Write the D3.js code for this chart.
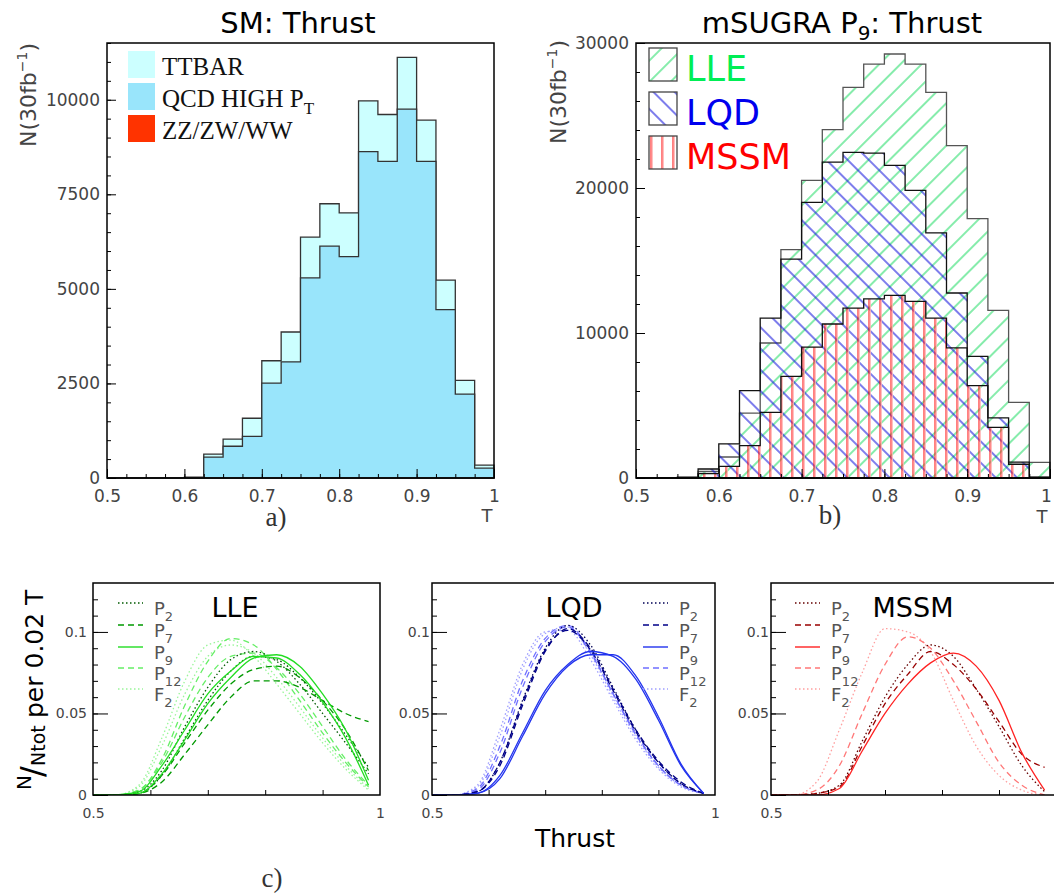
<!DOCTYPE html>
<html>
<head>
<meta charset="utf-8">
<script src="https://cdn.jsdelivr.net/npm/d3@7"></script>
<style>
body { margin: 0; background: #fff; }
text { font-family: "DejaVu Sans", sans-serif; }
text.serif { font-family: "Liberation Serif", serif; }
</style>
</head>
<body>
<script>
// histogram bins (lower edges, width 0.025)
var thrustBins = [0.500,0.525,0.550,0.575,0.600,0.625,0.650,0.675,0.700,0.725,
                  0.750,0.775,0.800,0.825,0.850,0.875,0.900,0.925,0.950,0.975];

// a) SM background, stacked
var smLegend  = ["TTBAR", "QCD HIGH P", "ZZ/ZW/WW"];
var smQcd     = [0,0,0,0,0,550,840,1100,2510,3070,5290,6130,5850,8630,8370,9750,8370,4450,2220,260];
var smTtbar   = [0,0,0,0,20,80,190,480,590,790,1080,1120,1160,1340,1240,1370,1090,780,360,80];
var smDiboson = [0,0,0,0,0,0,0,0,0,0,0,0,0,0,0,0,0,0,0,0];

// b) mSUGRA P9, overlaid
var p9Lle  = [0,0,60,450,1450,4480,9310,15750,20530,24020,26940,28550,29240,28550,26600,22920,17890,11560,5220,1080];
var p9Lqd  = [0,0,40,620,2350,6020,11030,15100,19010,21790,22460,22410,21560,19840,16900,12760,8390,4140,1100,60];
var p9Mssm = [0,0,20,300,800,2230,4530,7010,9030,10620,11720,12350,12600,12180,11030,8970,6370,3490,950,50];

// c) normalised shapes
var thrustGrid = [0.50,0.54,0.58,0.62,0.66,0.70,0.74,0.78,0.82,0.86,0.90,0.94,0.98];

var lleP2a  = [0,0,0.002,0.015,0.042,0.066,0.083,0.088,0.082,0.068,0.050,0.032,0.013];
var lleP2b  = [0,0,0.001,0.012,0.035,0.058,0.076,0.085,0.083,0.072,0.056,0.037,0.017];
var lleP7a  = [0,0,0.001,0.008,0.025,0.043,0.060,0.070,0.070,0.066,0.058,0.050,0.045];
var lleP7b  = [0,0,0.001,0.012,0.032,0.052,0.068,0.077,0.079,0.072,0.058,0.040,0.015];
var lleP9a  = [0,0,0.001,0.013,0.034,0.056,0.072,0.084,0.086,0.079,0.062,0.040,0.009];
var lleP9b  = [0,0,0.002,0.018,0.040,0.062,0.076,0.085,0.084,0.074,0.057,0.035,0.006];
var lleP12a = [0,0,0.003,0.022,0.055,0.082,0.096,0.092,0.077,0.058,0.038,0.020,0.005];
var lleP12b = [0,0,0.003,0.020,0.048,0.072,0.085,0.087,0.078,0.062,0.042,0.022,0.006];
var lleF2a  = [0,0,0.006,0.035,0.070,0.092,0.095,0.085,0.068,0.050,0.032,0.016,0.003];
var lleF2b  = [0,0,0.005,0.030,0.062,0.085,0.092,0.087,0.072,0.054,0.035,0.018,0.004];

var lqdP2   = [0,0,0.002,0.020,0.058,0.090,0.104,0.092,0.066,0.040,0.020,0.007,0.001];
var lqdP7a  = [0,0,0.002,0.018,0.055,0.088,0.102,0.090,0.065,0.040,0.021,0.008,0.001];
var lqdP7b  = [0,0,0.002,0.020,0.057,0.089,0.101,0.089,0.064,0.039,0.020,0.007,0.001];
var lqdP9a  = [0,0,0.001,0.010,0.036,0.062,0.079,0.086,0.086,0.073,0.048,0.019,0.001];
var lqdP9b  = [0,0,0.001,0.012,0.038,0.064,0.080,0.088,0.085,0.071,0.046,0.018,0.001];
var lqdP12a = [0,0,0.004,0.030,0.070,0.096,0.104,0.088,0.062,0.038,0.018,0.006,0.001];
var lqdP12b = [0,0,0.003,0.026,0.066,0.094,0.103,0.087,0.062,0.037,0.018,0.006,0.001];
var lqdF2a  = [0,0,0.005,0.036,0.077,0.099,0.103,0.086,0.060,0.036,0.017,0.006,0.001];
var lqdF2b  = [0,0,0.006,0.040,0.080,0.100,0.101,0.083,0.058,0.034,0.016,0.005,0.001];

var mssmP2  = [0,0,0.001,0.006,0.033,0.060,0.080,0.092,0.085,0.065,0.042,0.018,0.002];
var mssmP7  = [0,0,0.001,0.005,0.030,0.056,0.074,0.088,0.080,0.065,0.045,0.025,0.017];
var mssmP9  = [0,0,0,0.004,0.027,0.050,0.068,0.081,0.087,0.079,0.058,0.026,0.003];
var mssmP12 = [0,0,0.003,0.018,0.050,0.080,0.097,0.090,0.070,0.045,0.020,0.006,0];
var mssmF2  = [0,0,0.008,0.040,0.075,0.102,0.100,0.088,0.058,0.030,0.012,0.003,0];

var pointNames = ["P","P","P","P","F"];
var pointSubs  = ["2","7","9","12","2"];

var svgWidth = 1054, svgHeight = 895;
var svg = d3.select("body").append("svg")
  .attr("width", svgWidth)
  .attr("height", svgHeight);

var tickGray = "#444";

// hatch patterns for panel b
var defs = svg.append("defs");
defs.append("pattern").attr("id", "hatchLle")
  .attr("patternUnits", "userSpaceOnUse").attr("width", 15).attr("height", 15)
  .attr("patternTransform", "rotate(45)")
  .append("line").attr("x1", 7).attr("y1", -1).attr("x2", 7).attr("y2", 16)
  .attr("stroke", "#22dd66").attr("stroke-width", 1.1);
defs.append("pattern").attr("id", "hatchLqd")
  .attr("patternUnits", "userSpaceOnUse").attr("width", 15).attr("height", 15)
  .attr("patternTransform", "rotate(-45)")
  .append("line").attr("x1", 7).attr("y1", -1).attr("x2", 7).attr("y2", 16)
  .attr("stroke", "#1111dd").attr("stroke-width", 1.1);
var pm = defs.append("pattern").attr("id", "hatchMssm")
  .attr("patternUnits", "userSpaceOnUse").attr("width", 11).attr("height", 11);
pm.append("line").attr("x1", 2).attr("y1", 0).attr("x2", 2).attr("y2", 11)
  .attr("stroke", "#ff0000").attr("stroke-width", 1);
pm.append("line").attr("x1", 3.3).attr("y1", 0).attr("x2", 3.3).attr("y2", 11)
  .attr("stroke", "#ffb0b0").attr("stroke-width", 1);

function stepData(vals) {
  var d = thrustBins.map(function(t, i) { return {t: t, v: vals[i]}; });
  d.push({t: 1.0, v: vals[vals.length - 1]});
  return d;
}

function styleAxis(ax) {
  ax.select(".domain").remove();
  ax.selectAll(".tick line").attr("stroke", "#000");
  ax.selectAll("text").attr("fill", tickGray).attr("font-size", 17);
}

function histAxes(g, x, y, w, h, yMajor, yMinor, lastShift) {
  var xMinor = thrustBins.concat([1.0]);
  g.append("g").attr("transform", "translate(0," + h + ")")
    .call(d3.axisBottom(x).tickValues(xMinor).tickSize(-4).tickFormat(""))
    .call(styleAxis);
  g.append("g").attr("transform", "translate(0," + h + ")")
    .call(d3.axisBottom(x).tickValues([0.5,0.6,0.7,0.8,0.9,1.0]).tickSize(-9).tickPadding(12)
      .tickFormat(function(d) { return d === 1 ? "1" : d.toFixed(1); }))
    .call(styleAxis)
    .selectAll("text").filter(function(d) { return d === 1; }).attr("dx", lastShift);
  g.append("g")
    .call(d3.axisLeft(y).tickValues(yMinor).tickSize(-4).tickFormat(""))
    .call(styleAxis);
  g.append("g")
    .call(d3.axisLeft(y).tickValues(yMajor).tickSize(-9).tickPadding(7).tickFormat(d3.format("d")))
    .call(styleAxis);
  g.append("rect").attr("width", w).attr("height", h)
    .attr("fill", "none").attr("stroke", "#000").attr("stroke-width", 1.5);
}

function yLabel(x0, y0) {
  var t = svg.append("text")
    .attr("transform", "translate(" + x0 + "," + y0 + ") rotate(-90)")
    .attr("text-anchor", "end").attr("font-size", 22).attr("fill", tickGray);
  t.append("tspan").text("N(30fb");
  t.append("tspan").attr("font-size", 14).attr("dy", -9).text("\u22121");
  t.append("tspan").attr("dy", 9).text(")");
}

// ---------- a) SM: Thrust ----------
(function() {
  var box = {left: 107, right: 494, top: 43, bottom: 478};
  var w = box.right - box.left, h = box.bottom - box.top;
  var g = svg.append("g").attr("transform", "translate(" + box.left + "," + box.top + ")");
  var x = d3.scaleLinear().domain([0.5, 1.0]).range([0, w]);
  var y = d3.scaleLinear().domain([0, 11500]).range([h, 0]);

  var stack1 = smDiboson;
  var stack2 = smQcd.map(function(v, i) { return v + stack1[i]; });
  var stack3 = smTtbar.map(function(v, i) { return v + stack2[i]; });

  var area = d3.area().curve(d3.curveStepAfter)
    .x(function(d) { return x(d.t); })
    .y0(y(0))
    .y1(function(d) { return y(d.v); });

  [[stack3, "#ccffff"], [stack2, "#99e5fb"], [stack1, "#ff3300"]].forEach(function(s) {
    g.append("path").datum(stepData(s[0]))
      .attr("d", area)
      .attr("fill", s[1])
      .attr("stroke", "#333").attr("stroke-width", 1.3);
  });

  histAxes(g, x, y, w, h, [0, 2500, 5000, 7500, 10000], d3.range(0, 11501, 500), 0);

  // legend
  var legColors = ["#ccffff", "#99e5fb", "#ff3300"];
  var legY = [51, 83, 115];
  smLegend.forEach(function(name, i) {
    svg.append("rect").attr("x", 128).attr("y", legY[i]).attr("width", 27).attr("height", 27)
      .attr("fill", legColors[i]);
    var t = svg.append("text").attr("class", "serif").attr("x", 162).attr("y", legY[i] + 24)
      .attr("font-size", 25).attr("fill", "#111")
      .text(name);
    if (i === 1) t.append("tspan").attr("font-size", 17).attr("dy", 7).text("T");
  });

  svg.append("text").attr("x", 298).attr("y", 33).attr("text-anchor", "middle")
    .attr("font-size", 29).attr("fill", "#000").text("SM: Thrust");
  yLabel(36, 43);
  svg.append("text").attr("x", 487).attr("y", 522).attr("text-anchor", "middle")
    .attr("font-size", 18).attr("fill", tickGray).text("T");
  svg.append("text").attr("class", "serif").attr("x", 276).attr("y", 526).attr("text-anchor", "middle")
    .attr("font-size", 27).attr("fill", "#333").text("a)");
})();

// ---------- b) mSUGRA P9: Thrust ----------
(function() {
  var box = {left: 636, right: 1050, top: 43, bottom: 478};
  var w = box.right - box.left, h = box.bottom - box.top;
  var g = svg.append("g").attr("transform", "translate(" + box.left + "," + box.top + ")");
  var x = d3.scaleLinear().domain([0.5, 1.0]).range([0, w]);
  var y = d3.scaleLinear().domain([0, 30000]).range([h, 0]);

  var area = d3.area().curve(d3.curveStepAfter)
    .x(function(d) { return x(d.t); })
    .y0(y(0))
    .y1(function(d) { return y(d.v); });

  var models = [
    {vals: p9Lle, fill: "url(#hatchLle)", stroke: "#555", name: "LLE", color: "#00ee55"},
    {vals: p9Lqd, fill: "url(#hatchLqd)", stroke: "#111", name: "LQD", color: "#0000ee"},
    {vals: p9Mssm, fill: "url(#hatchMssm)", stroke: "#111", name: "MSSM", color: "#ff0000"}
  ];
  models.forEach(function(m) {
    g.append("path").datum(stepData(m.vals))
      .attr("d", area)
      .attr("fill", m.fill)
      .attr("stroke", m.stroke).attr("stroke-width", 1.3);
  });

  histAxes(g, x, y, w, h, [0, 10000, 20000, 30000], d3.range(0, 30001, 2000), -4);

  var legY = [48, 92, 136];
  models.forEach(function(m, i) {
    svg.append("rect").attr("x", 649).attr("y", legY[i]).attr("width", 28).attr("height", 33)
      .attr("fill", m.fill).attr("stroke", "#444").attr("stroke-width", 1.3);
    svg.append("text").attr("x", 686).attr("y", legY[i] + 33)
      .attr("font-size", 35).attr("fill", m.color).text(m.name);
  });

  var t = svg.append("text").attr("x", 842).attr("y", 33).attr("text-anchor", "middle")
    .attr("font-size", 29).attr("fill", "#000");
  t.append("tspan").text("mSUGRA P");
  t.append("tspan").attr("font-size", 20).attr("dy", 7).text("9");
  t.append("tspan").attr("dy", -7).text(": Thrust");
  yLabel(566, 40);
  svg.append("text").attr("x", 1042).attr("y", 523).attr("text-anchor", "middle")
    .attr("font-size", 18).attr("fill", tickGray).text("T");
  svg.append("text").attr("class", "serif").attr("x", 830).attr("y", 524).attr("text-anchor", "middle")
    .attr("font-size", 27).attr("fill", "#333").text("b)");
})();

// ---------- c) normalised thrust shapes ----------
var dashes = ["1.5,2.5", "6,4", null, "6,4", "1.5,2.5"];

function shapePanel(box, title, titleX, legendX, palette, series, gap, clipId, xLabels) {
  var w = box.right - box.left, h = box.bottom - box.top;
  var g = svg.append("g").attr("transform", "translate(" + box.left + "," + box.top + ")");
  var x = d3.scaleLinear().domain([0.5, 1.0]).range([0, w]);
  var y = d3.scaleLinear().domain([0, 0.13]).range([h, 0]);

  defs.append("clipPath").attr("id", clipId)
    .append("rect").attr("width", w).attr("height", h);

  var line = d3.line().curve(d3.curveMonotoneX)
    .x(function(d) { return x(d.t); })
    .y(function(d) { return y(d.v); });

  var cg = g.append("g").attr("clip-path", "url(#" + clipId + ")");
  series.forEach(function(s) {
    var pts = thrustGrid.map(function(t, i) { return {t: t, v: s.vals[i]}; });
    cg.append("path").datum(pts)
      .attr("d", line)
      .attr("fill", "none")
      .attr("stroke", palette[s.k])
      .attr("stroke-width", 1.3)
      .attr("stroke-dasharray", dashes[s.k]);
  });

  function styleC(ax) {
    ax.select(".domain").remove();
    ax.selectAll(".tick line").attr("stroke", "#000");
    ax.selectAll("text").attr("fill", tickGray).attr("font-size", 14);
  }
  g.append("g").attr("transform", "translate(0," + h + ")")
    .call(d3.axisBottom(x).tickValues([0.6, 0.7, 0.8, 0.9]).tickSize(-5).tickFormat(""))
    .call(styleC);
  g.append("g").attr("transform", "translate(0," + h + ")")
    .call(d3.axisBottom(x).tickValues(xLabels).tickSize(0).tickPadding(13)
      .tickFormat(function(d) { return d === 1 ? "1" : "0.5"; }))
    .call(styleC);
  g.append("g")
    .call(d3.axisLeft(y).tickValues(d3.range(0.01, 0.125, 0.01)).tickSize(-5).tickFormat(""))
    .call(styleC);
  g.append("g")
    .call(d3.axisLeft(y).tickValues([0, 0.05, 0.1]).tickSize(-15).tickPadding(gap)
      .tickFormat(function(d) { return d === 0 ? "0" : String(d); }))
    .call(styleC);
  g.append("rect").attr("width", w).attr("height", h)
    .attr("fill", "none").attr("stroke", "#000").attr("stroke-width", 1.5);

  svg.append("text").attr("x", titleX).attr("y", box.top + 34).attr("text-anchor", "middle")
    .attr("font-size", 27).attr("fill", "#000").text(title);

  var legY = [603, 625, 647, 668, 689];
  pointNames.forEach(function(p, k) {
    svg.append("line").attr("x1", legendX).attr("x2", legendX + 25)
      .attr("y1", legY[k]).attr("y2", legY[k])
      .attr("stroke", palette[k]).attr("stroke-width", 1.4)
      .attr("stroke-dasharray", dashes[k]);
    var t = svg.append("text").attr("x", legendX + 36).attr("y", legY[k] + 12)
      .attr("font-size", 18).attr("fill", "#555").text(p);
    t.append("tspan").attr("font-size", 13).attr("dy", 6).text(pointSubs[k]);
  });
}

shapePanel({left: 93, right: 380, top: 583, bottom: 795}, "LLE", 235, 118,
  ["#005a00", "#009900", "#22dd22", "#66ee66", "#99f599"],
  [{k: 4, vals: lleF2a}, {k: 4, vals: lleF2b}, {k: 3, vals: lleP12a}, {k: 3, vals: lleP12b},
   {k: 0, vals: lleP2a}, {k: 0, vals: lleP2b}, {k: 1, vals: lleP7a}, {k: 1, vals: lleP7b},
   {k: 2, vals: lleP9a}, {k: 2, vals: lleP9b}], 6, "clipLle", [0.5, 1.0]);

shapePanel({left: 432, right: 715, top: 583, bottom: 795}, "LQD", 574, 643,
  ["#000055", "#000088", "#2233ee", "#6f6fff", "#9f9fff"],
  [{k: 4, vals: lqdF2a}, {k: 4, vals: lqdF2b}, {k: 3, vals: lqdP12a}, {k: 3, vals: lqdP12b},
   {k: 0, vals: lqdP2}, {k: 1, vals: lqdP7a}, {k: 1, vals: lqdP7b},
   {k: 2, vals: lqdP9a}, {k: 2, vals: lqdP9b}], 2, "clipLqd", [0.5, 1.0]);

shapePanel({left: 771, right: 1056, top: 583, bottom: 795}, "MSSM", 913, 795,
  ["#660000", "#990000", "#ff2222", "#ff7777", "#ff9f9f"],
  [{k: 4, vals: mssmF2}, {k: 3, vals: mssmP12}, {k: 0, vals: mssmP2},
   {k: 1, vals: mssmP7}, {k: 2, vals: mssmP9}], 2, "clipMssm", [0.5]);

// shared y label of panel c
var yl = svg.append("g").attr("transform", "translate(43,790) rotate(-90)");
yl.append("text").attr("x", 0).attr("y", -12).attr("font-size", 20).attr("fill", "#000").text("N");
yl.append("text").attr("x", 13).attr("y", 0).attr("font-size", 32).attr("fill", "#000").text("/");
yl.append("text").attr("x", 24).attr("y", 2).attr("font-size", 19).attr("fill", "#000").text("Ntot");
yl.append("text").attr("x", 72).attr("y", 0).attr("font-size", 25).attr("fill", "#000").text("per 0.02 T");

svg.append("text").attr("x", 575).attr("y", 847).attr("text-anchor", "middle")
  .attr("font-size", 25).attr("fill", "#000").text("Thrust");
svg.append("text").attr("class", "serif").attr("x", 272).attr("y", 887).attr("text-anchor", "middle")
  .attr("font-size", 27).attr("fill", "#333").text("c)");
</script>
</body>
</html>
